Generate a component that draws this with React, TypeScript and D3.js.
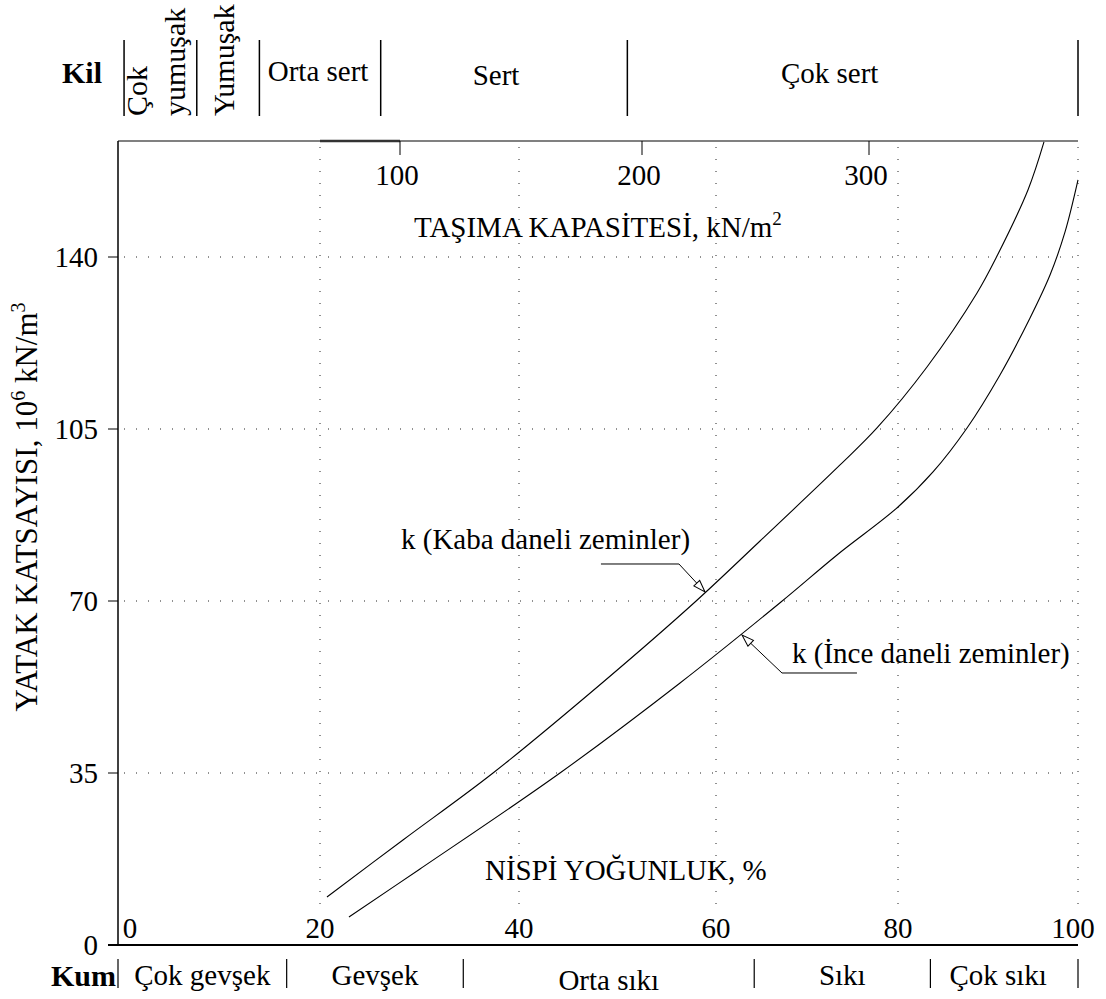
import React from "react";
import * as d3 from "d3";

// ---- data ----
const xTicks = [0, 20, 40, 60, 80, 100];
const gridX = [20, 40, 60, 80, 100];
const yTicks = [0, 35, 70, 105, 140];
const gridY = [35, 70, 105, 140];
const capacityTicks = [100, 200, 300];

// relative density (%) vs subgrade modulus (10^6 kN/m3)
const coarseDr = [20.7, 28.34, 37.39, 48.43, 57.87, 64.84, 73.63, 77.69, 83.22, 88.78, 90.89, 94.44, 96.22];
const coarseK = [9.77, 21.37, 35.0, 53.32, 69.8, 82.21, 97.68, 105.21, 117.62, 132.68, 139.8, 153.64, 163.41];
const fineDr = [22.91, 30.05, 44.16, 56.35, 67.14, 73.3, 80.0, 83.89, 87.67, 91.33, 94.67, 96.89, 98.56, 100];
const fineK = [5.7, 15.47, 35.0, 53.32, 69.8, 79.37, 89.13, 96.26, 105.21, 116.0, 127.6, 136.34, 145.1, 155.68];

const sandClasses = ["Çok gevşek", "Gevşek", "Orta sıkı", "Sıkı", "Çok sıkı"];
const sandBounds = [0, 16.7, 34.4, 64.2, 83.6, 100];
const clayClasses = ["Çok\nyumuşak", "Yumuşak", "Orta sert", "Sert", "Çok sert"];
const clayBounds = [0.6, 7.8, 14.0, 26.1, 51.0, 100];

const coarseLabel = "k (Kaba daneli zeminler)";
const fineLabel = "k (İnce daneli zeminler)";
// annotation anchors in data units
const coarseNote = { text: [28.14, 80.59], start: [48.32, 77.53], elbow: [56.24, 77.53], tip: [58.88, 71.84] };
const fineNote = { text: [68.35, 57.39], start: [75.49, 55.35], elbow: [67.25, 55.35], tip: [62.86, 63.08] };

const FONT = "'Liberation Serif', 'Times New Roman', serif";

export default function App() {
  const W = 1106, H = 999;
  const top = 141, bottom = 945;
  const x = d3.scaleLinear().domain([0, 20, 40, 60, 80, 100]).range([118, 320, 519, 716, 898, 1078]);
  const y = d3.scaleLinear().domain([0, 140]).range([bottom, 257]);
  const cap = d3.scaleLinear().domain([100, 200, 300]).range([400, 642, 869]);
  const left = x(0), right = x(100);

  const line = d3.line<[number, number]>()
    .x((d) => x(d[0]))
    .y((d) => y(d[1]))
    .curve(d3.curveCatmullRom.alpha(0.5));

  const coarse = coarseDr.map((v, i) => [v, coarseK[i]] as [number, number]);
  const fine = fineDr.map((v, i) => [v, fineK[i]] as [number, number]);

  const leader = (n: typeof coarseNote) =>
    `M${x(n.start[0])},${y(n.start[1])}L${x(n.elbow[0])},${y(n.elbow[1])}L${x(n.tip[0])},${y(n.tip[1])}`;

  const fs = 29;

  return (
    <svg width={W} height={H} style={{ position: "absolute", left: 0, top: 0, display: "block", background: "#fff" }}
      fontFamily={FONT} fontSize={fs}>
      <defs>
        <marker id="arr" markerUnits="userSpaceOnUse" markerWidth={16} markerHeight={12} refX={13} refY={5} orient="auto">
          <path d="M1,1 L13,5 L1,9 Z" fill="#fff" stroke="#000" strokeWidth={1} />
        </marker>
        <clipPath id="plotclip">
          <rect x={left} y={top} width={right - left + 2} height={bottom - top} />
        </clipPath>
      </defs>
      <rect x={0} y={0} width={W} height={H} fill="#fff" />

      {/* grid */}
      {gridX.map((v) => (
        <line key={"gx" + v} x1={x(v)} x2={x(v)} y1={top + 6} y2={912} stroke="#222" strokeWidth={1} strokeDasharray="1 11" />
      ))}
      {gridY.map((v) => (
        <line key={"gy" + v} x1={left + 6} x2={right} y1={y(v)} y2={y(v)} stroke="#222" strokeWidth={1} strokeDasharray="1 11" />
      ))}

      {/* frame */}
      <line x1={left} x2={right} y1={top} y2={top} stroke="#808080" strokeWidth={2} />
      <line x1={x(20)} x2={cap(100)} y1={top} y2={top} stroke="#333" strokeWidth={2.5} />
      <line x1={left} x2={left} y1={top} y2={bottom} stroke="#000" strokeWidth={1.5} />
      <line x1={left - 10} x2={right} y1={bottom} y2={bottom} stroke="#000" strokeWidth={2} />

      {/* y axis */}
      {yTicks.map((v) => (
        <g key={"yt" + v}>
          <line x1={left - 10} x2={left} y1={y(v)} y2={y(v)} stroke="#000" strokeWidth={1} />
          <text x={98} y={y(v)} dy="0.35em" textAnchor="end">{v}</text>
        </g>
      ))}
      <text transform={`translate(37,507) rotate(-90)`} textAnchor="middle" fontSize={31}>
        YATAK KATSAYISI, 10<tspan fontSize={20} dy={-12}>6</tspan><tspan dy={12}> kN/m</tspan><tspan fontSize={20} dy={-12}>3</tspan>
      </text>

      {/* x axis labels */}
      {xTicks.map((v) => (
        <text key={"xt" + v} x={x(v) + (v === 0 ? 12 : v === 100 ? -5 : 0)} y={938} textAnchor="middle">{v}</text>
      ))}
      <text x={485} y={880}>NİSPİ YOĞUNLUK, %</text>

      {/* top capacity axis */}
      {capacityTicks.map((v) => (
        <g key={"ct" + v}>
          <line x1={cap(v)} x2={cap(v)} y1={top} y2={top + 14} stroke="#000" strokeWidth={1} />
          <text x={cap(v) - 3} y={185} textAnchor="middle">{v}</text>
        </g>
      ))}
      <text x={414} y={237}>
        TAŞIMA KAPASİTESİ, kN/m<tspan fontSize={19} dy={-12}>2</tspan>
      </text>

      {/* curves */}
      <g clipPath="url(#plotclip)">
        <path d={line(coarse) ?? ""} fill="none" stroke="#000" strokeWidth={1.1} />
        <path d={line(fine) ?? ""} fill="none" stroke="#000" strokeWidth={1.1} />
      </g>

      {/* annotations */}
      <text x={x(coarseNote.text[0])} y={y(coarseNote.text[1])}>{coarseLabel}</text>
      <path d={leader(coarseNote)} fill="none" stroke="#000" strokeWidth={1} markerEnd="url(#arr)" />
      <text x={x(fineNote.text[0])} y={y(fineNote.text[1])}>{fineLabel}</text>
      <path d={leader(fineNote)} fill="none" stroke="#000" strokeWidth={1} markerEnd="url(#arr)" />

      {/* clay band (top) */}
      <text x={102} y={83} textAnchor="end" fontWeight="bold" fontSize={30}>Kil</text>
      {clayBounds.map((b, i) => (
        <line key={"cb" + i} x1={x(b)} x2={x(b)} y1={40} y2={116} stroke="#000" strokeWidth={1.5} />
      ))}
      {clayClasses.map((c, i) => {
        const x0 = x(clayBounds[i]), x1 = x(clayBounds[i + 1]);
        const cx = (x0 + x1) / 2;
        const lines = c.split("\n");
        if (x1 - x0 < 80) {
          return lines.map((l, j) => (
            <text key={"cl" + i + j} fontSize={30} transform={`translate(${cx + (j - (lines.length - 1) / 2) * 38 + 6},116) rotate(-90)`}>{l}</text>
          ));
        }
        const nudge = i === 4 ? -23 : i === 3 ? -8 : -2;
        const base = i === 3 ? 85 : i === 2 ? 81 : 83;
        return <text key={"cl" + i} x={cx + nudge} y={base} textAnchor="middle">{c}</text>;
      })}

      {/* sand band (bottom) */}
      <text x={116} y={986} textAnchor="end" fontWeight="bold" fontSize={30}>Kum</text>
      {sandBounds.map((b, i) => (
        <line key={"sb" + i} x1={x(b)} x2={x(b)} y1={959} y2={988} stroke="#000" strokeWidth={1.2} />
      ))}
      {sandClasses.map((c, i) => {
        const cx = (x(sandBounds[i]) + x(sandBounds[i + 1])) / 2;
        const nudge = i === 4 ? -6 : 0;
        return <text key={"sl" + i} x={cx + nudge} y={i === 2 ? 990 : 985} textAnchor="middle">{c}</text>;
      })}
    </svg>
  );
}
